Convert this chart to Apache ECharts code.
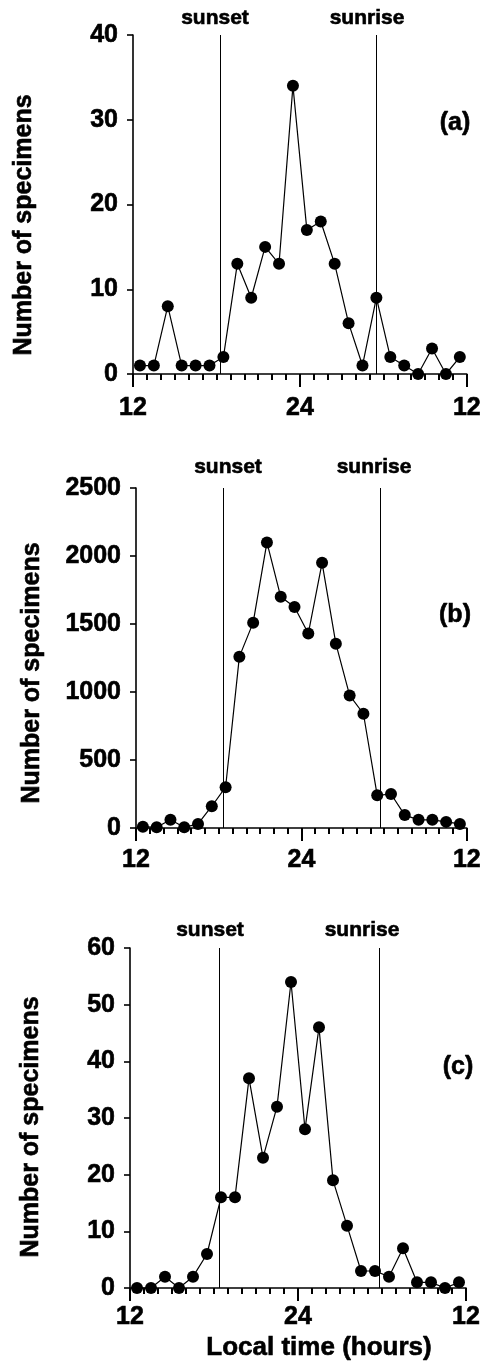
<!DOCTYPE html>
<html>
<head>
<meta charset="utf-8">
<script src="https://cdn.jsdelivr.net/npm/echarts@6/dist/echarts.min.js"></script>
<style>
  html, body { margin: 0; padding: 0; background: #fff; }
  #chart { width: 484px; height: 1363px; }
</style>
</head>
<body>
<div id="chart"></div>
<script>
// hourly bins, plotted at the middle of each hour (12.5 ... 35.5)
var hours = [12.5, 13.5, 14.5, 15.5, 16.5, 17.5, 18.5, 19.5, 20.5, 21.5, 22.5, 23.5,
             24.5, 25.5, 26.5, 27.5, 28.5, 29.5, 30.5, 31.5, 32.5, 33.5, 34.5, 35.5];

var countsA = [1, 1, 8, 1, 1, 1, 2, 13, 9, 15, 13, 34, 17, 18, 13, 6, 1, 9, 2, 1, 0, 3, 0, 2];
var countsB = [10, 5, 60, 5, 30, 160, 300, 1260, 1510, 2100, 1700, 1625, 1430, 1950, 1355,
               975, 840, 240, 250, 95, 60, 60, 45, 30];
var countsC = [0, 0, 2, 0, 2, 6, 16, 16, 37, 23, 32, 54, 28, 46, 19, 11, 3, 3, 2, 7, 1, 1, 0, 1];

var yMax = [40, 2500, 60];
var yStep = [10, 500, 10];
var xTickLabels = {12: '12', 24: '24', 36: '12'};
// sunset / sunrise positions (hours on the 12..36 axis) for each panel
var sunLines = [[18.25, 29.5], [18.35, 29.7], [18.4, 29.8]];
var panelTags = ['(a)', '(b)', '(c)'];

var FONT = '"Liberation Sans", Arial, Helvetica, sans-serif';

var grids = [
  {left: 133, right: 12, top: 35, height: 339},
  {left: 136, right: 11, top: 488, height: 340},
  {left: 130, right: 18, top: 948, height: 340}
];
var labelMargin = [22, 20, 17];

function pairs(vals) {
  return vals.map(function (v, i) { return [hours[i], v]; });
}

var allCounts = [countsA, countsB, countsC];
var labelStyle = {
  color: '#000', fontFamily: FONT, fontWeight: 'bold', fontSize: 25,
  textBorderColor: '#000', textBorderWidth: 0.6
};

var xAxes = [], yAxes = [], series = [];
for (var k = 0; k < 3; k++) {
  xAxes.push({
    gridIndex: k,
    type: 'value',
    min: 12,
    max: 36,
    interval: 12,
    splitLine: {show: false},
    axisLine: {lineStyle: {color: '#000', width: 1.6}},
    axisTick: {show: true, length: 13, lineStyle: {color: '#000', width: 2}},
    minorTick: {show: true, splitNumber: 12, length: 6, lineStyle: {color: '#000', width: 2}},
    axisLabel: Object.assign({
      margin: labelMargin[k],
      formatter: function (v) { return xTickLabels[v] || ''; }
    }, labelStyle)
  });
  yAxes.push({
    gridIndex: k,
    type: 'value',
    min: 0,
    max: yMax[k],
    interval: yStep[k],
    splitLine: {show: false},
    axisLine: {show: true, lineStyle: {color: '#000', width: 1.6}},
    axisTick: {show: true, length: 6, lineStyle: {color: '#000', width: 1.6}},
    axisLabel: Object.assign({
      margin: 15,
      formatter: function (v) { return String(v); }
    }, labelStyle)
  });
  series.push({
    type: 'line',
    xAxisIndex: k,
    yAxisIndex: k,
    data: pairs(allCounts[k]),
    symbol: 'circle',
    symbolSize: 12,
    clip: false,
    itemStyle: {color: '#000'},
    lineStyle: {color: '#000', width: 1.2},
    markLine: {
      silent: true,
      symbol: 'none',
      label: {show: false},
      lineStyle: {color: '#000', width: 1, type: 'solid'},
      data: sunLines[k].map(function (x) {
        return [{coord: [x, 0]}, {coord: [x, yMax[k]]}];
      })
    }
  });
}

function txt(x, y, s, size, rot) {
  return {
    type: 'text', x: x, y: y, rotation: rot || 0,
    style: {
      text: s, fill: '#000', font: 'bold ' + size + 'px ' + FONT,
      stroke: '#000', lineWidth: 0.6,
      align: 'center', verticalAlign: 'middle'
    }
  };
}

var graphics = [
  txt(24, 225, 'Number of specimens', 25, Math.PI / 2),
  txt(32, 673, 'Number of specimens', 25, Math.PI / 2),
  txt(31, 1127, 'Number of specimens', 25, Math.PI / 2),
  txt(455, 123, panelTags[0], 25),
  txt(455, 615, panelTags[1], 25),
  txt(458, 1067, panelTags[2], 25),
  txt(215, 18, 'sunset', 21), txt(367, 18, 'sunrise', 21),
  txt(228, 467, 'sunset', 21), txt(374, 467, 'sunrise', 21),
  txt(210, 930, 'sunset', 21), txt(362, 930, 'sunrise', 21),
  txt(319, 1348, 'Local time (hours)', 26)
];

var chart = echarts.init(document.getElementById('chart'));
chart.setOption({
  backgroundColor: '#fff',
  animation: false,
  grid: grids,
  xAxis: xAxes,
  yAxis: yAxes,
  series: series,
  graphic: graphics
});
window.addEventListener('resize', chart.resize);
</script>
</body>
</html>
